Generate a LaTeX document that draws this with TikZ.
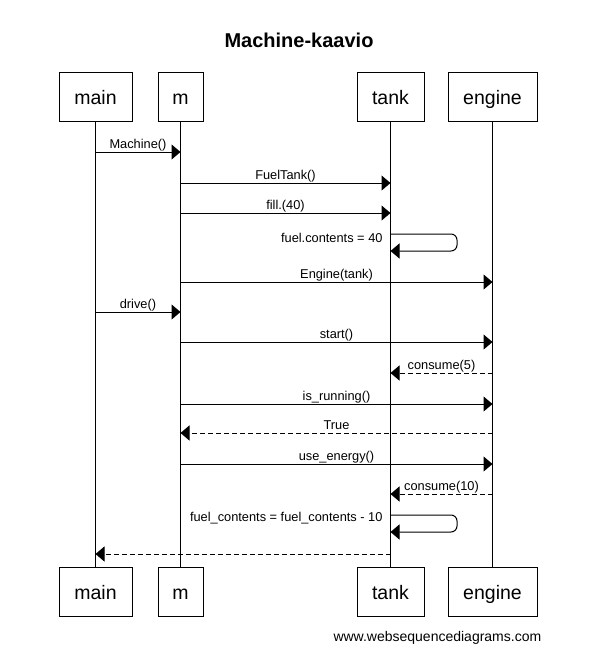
\documentclass[tikz,border=0pt]{standalone}
\usepackage{fontspec}
\setmainfont{Liberation Sans}
\usetikzlibrary{arrows.meta}
\begin{document}
\begin{tikzpicture}[x=1pt,y=1pt,line width=1pt,
  actor/.style={draw,minimum height=49pt,inner sep=0pt,text height=17pt,text depth=2pt,font=\fontsize{19.5}{22}\selectfont},
  lifeline/.style={draw},
  msg/.style={-{Triangle[length=9pt,width=15pt]}},
  ret/.style={msg,dash pattern=on 5pt off 3pt},
  lbl/.style={anchor=base,inner sep=0pt,yshift=4pt,font=\fontsize{12.8}{15}\selectfont},
  note/.style={anchor=east,inner sep=0pt,font=\fontsize{12.8}{15}\selectfont}]
\useasboundingbox (0,0) rectangle (613,-658);
% title
\node[anchor=base,inner sep=0pt,font=\bfseries\fontsize{20}{24}\selectfont] (title) at (299,-48) {Machine-kaavio};
% top actors
\node[actor,minimum width=73pt] (mainT) at (95.5,-97.5) {main};
\node[actor,minimum width=45pt] (mT) at (180.5,-97.5) {m};
\node[actor,minimum width=67pt] (tankT) at (390.5,-97.5) {tank};
\node[actor,minimum width=89pt] (engineT) at (492.5,-97.5) {engine};
% bottom actors
\node[actor,minimum width=73pt] (mainB) at (95.5,-591.5) {main};
\node[actor,minimum width=45pt] (mB) at (180.5,-591.5) {m};
\node[actor,minimum width=67pt] (tankB) at (390.5,-591.5) {tank};
\node[actor,minimum width=89pt] (engineB) at (492.5,-591.5) {engine};
% lifelines
\draw[lifeline] (mainT) -- (mainB);
\draw[lifeline] (mT) -- (mB);
\draw[lifeline] (tankT) -- (tankB);
\draw[lifeline] (engineT) -- (engineB);
% messages
\draw[msg] (mainT |- 0,-152) -- (mT |- 0,-152) node[lbl,midway] {Machine()};
\draw[msg] (mT |- 0,-183) -- (tankT |- 0,-183) node[lbl,midway] {FuelTank()};
\draw[msg] (mT |- 0,-213) -- (tankT |- 0,-213) node[lbl,midway] {fill.(40)};
\draw[msg,rounded corners=6pt] (tankT |- 0,-234) -- (457,-234) -- (457,-251) -- (tankT |- 0,-251);
\node[note] (n1) at ([xshift=-7.5pt]tankT |- 0,-238) {fuel.contents = 40};
\draw[msg] (mT |- 0,-282) -- (engineT |- 0,-282) node[lbl,midway] {Engine(tank)};
\draw[msg] (mainT |- 0,-312) -- (mT |- 0,-312) node[lbl,midway] {drive()};
\draw[msg] (mT |- 0,-342) -- (engineT |- 0,-342) node[lbl,midway] {start()};
\draw[ret] (engineT |- 0,-373) -- (tankT |- 0,-373) node[lbl,midway] {consume(5)};
\draw[msg] (mT |- 0,-404) -- (engineT |- 0,-404) node[lbl,midway] {is\_running()};
\draw[ret] (engineT |- 0,-433) -- (mT |- 0,-433) node[lbl,midway] {True};
\draw[msg] (mT |- 0,-464) -- (engineT |- 0,-464) node[lbl,midway] {use\_energy()};
\draw[ret] (engineT |- 0,-494) -- (tankT |- 0,-494) node[lbl,midway] {consume(10)};
\draw[msg,rounded corners=6pt] (tankT |- 0,-515) -- (457,-515) -- (457,-532) -- (tankT |- 0,-532);
\node[note] (n2) at ([xshift=-7.5pt]tankT |- 0,-518) {fuel\_contents = fuel\_contents - 10};
\draw[ret] (tankT |- 0,-554) -- (mainT |- 0,-554);
% footer
\node[anchor=base west,inner sep=0pt,font=\fontsize{14}{16}\selectfont] (footer) at (333,-641) {www.websequencediagrams.com};
\end{tikzpicture}
\end{document}
